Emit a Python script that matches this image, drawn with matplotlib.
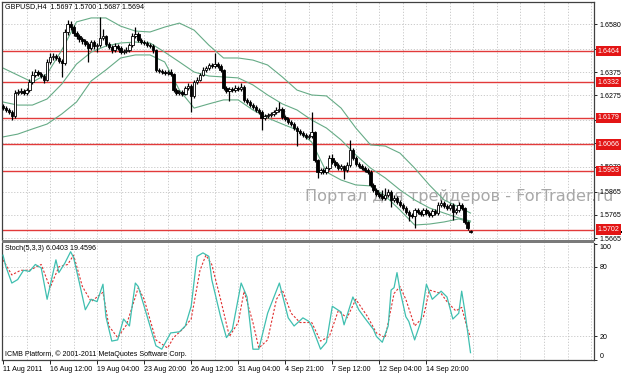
import matplotlib
matplotlib.use("Agg")
import matplotlib.pyplot as plt
import numpy as np
from matplotlib.patches import Rectangle

plt.rcParams['font.family'] = ['Liberation Sans', 'DejaVu Sans']

symbol_title = "GBPUSD,H4  1.5697 1.5700 1.5687 1.5694"
stoch_title = "Stoch(5,3,3) 6.0403 19.4596"
copyright_text = "ICMB Platform, \u00a9 2001-2011 MetaQuotes Software Corp."
watermark = "Портал для трейдеров - ForTrader.ru"

opens = [
    1.6230, 1.6221, 1.6213, 1.6204, 1.6187, 1.6286, 1.6290, 1.6294, 1.6286, 1.6298,
    1.6333, 1.6363, 1.6375, 1.6367, 1.6358, 1.6341, 1.6418, 1.6439, 1.6443, 1.6435,
    1.6422, 1.6414, 1.6546, 1.6580, 1.6567, 1.6541, 1.6529, 1.6516, 1.6507, 1.6495,
    1.6478, 1.6503, 1.6486, 1.6490, 1.6520, 1.6529, 1.6495, 1.6482, 1.6469, 1.6486,
    1.6478, 1.6460, 1.6465, 1.6469, 1.6490, 1.6529, 1.6537, 1.6512, 1.6503, 1.6499,
    1.6490, 1.6486, 1.6469, 1.6384, 1.6379, 1.6375, 1.6371, 1.6375, 1.6367, 1.6298,
    1.6286, 1.6290, 1.6281, 1.6307, 1.6316, 1.6273, 1.6333, 1.6341, 1.6363, 1.6384,
    1.6392, 1.6405, 1.6401, 1.6409, 1.6401, 1.6384, 1.6307, 1.6294, 1.6303, 1.6298,
    1.6307, 1.6303, 1.6311, 1.6256, 1.6247, 1.6234, 1.6226, 1.6213, 1.6204, 1.6179,
    1.6187, 1.6192, 1.6196, 1.6204, 1.6213, 1.6217, 1.6183, 1.6174, 1.6162, 1.6153,
    1.6136, 1.6123, 1.6115, 1.6106, 1.6098, 1.6102, 1.6119, 1.5999, 1.5948, 1.5957,
    1.5948, 1.5965, 1.6008, 1.5991, 1.5978, 1.5965, 1.5974, 1.5957, 1.5978, 1.6042,
    1.6008, 1.5982, 1.5974, 1.5965, 1.5957, 1.5948, 1.5893, 1.5872, 1.5854, 1.5846,
    1.5838, 1.5850, 1.5863, 1.5829, 1.5838, 1.5820, 1.5808, 1.5795, 1.5778, 1.5765,
    1.5761, 1.5786, 1.5778, 1.5769, 1.5786, 1.5773, 1.5765, 1.5782, 1.5773, 1.5808,
    1.5816, 1.5803, 1.5795, 1.5808, 1.5778, 1.5786, 1.5808, 1.5795, 1.5735, 1.5697,
]
highs = [
    1.6240, 1.6232, 1.6222, 1.6212, 1.6300, 1.6302, 1.6305, 1.6303, 1.6308, 1.6345,
    1.6380, 1.6388, 1.6384, 1.6375, 1.6366, 1.6430, 1.6455, 1.6456, 1.6452, 1.6442,
    1.6430, 1.6560, 1.6597, 1.6595, 1.6575, 1.6550, 1.6538, 1.6525, 1.6515, 1.6503,
    1.6512, 1.6510, 1.6500, 1.6610, 1.6560, 1.6535, 1.6503, 1.6490, 1.6497, 1.6495,
    1.6485, 1.6475, 1.6480, 1.6500, 1.6540, 1.6567, 1.6545, 1.6520, 1.6512, 1.6508,
    1.6498, 1.6495, 1.6475, 1.6392, 1.6388, 1.6384, 1.6383, 1.6386, 1.6372, 1.6306,
    1.6300, 1.6298, 1.6316, 1.6330, 1.6325, 1.6340, 1.6352, 1.6372, 1.6395, 1.6402,
    1.6415, 1.6414, 1.6456, 1.6418, 1.6410, 1.6390, 1.6315, 1.6312, 1.6312, 1.6318,
    1.6316, 1.6330, 1.6318, 1.6265, 1.6255, 1.6243, 1.6235, 1.6222, 1.6212, 1.6196,
    1.6200, 1.6206, 1.6214, 1.6225, 1.6247, 1.6225, 1.6192, 1.6182, 1.6170, 1.6160,
    1.6145, 1.6132, 1.6124, 1.6115, 1.6112, 1.6204, 1.6125, 1.6005, 1.5966, 1.5965,
    1.5975, 1.6020, 1.6025, 1.5998, 1.5986, 1.5983, 1.5980, 1.5990, 1.6085, 1.6050,
    1.6015, 1.5990, 1.5982, 1.5973, 1.5965, 1.5955, 1.5900, 1.5880, 1.5862, 1.5870,
    1.5880, 1.5875, 1.5870, 1.5850, 1.5845, 1.5828, 1.5816, 1.5803, 1.5786, 1.5775,
    1.5795, 1.5795, 1.5786, 1.5795, 1.5794, 1.5781, 1.5792, 1.5790, 1.5820, 1.5830,
    1.5825, 1.5812, 1.5818, 1.5815, 1.5795, 1.5820, 1.5815, 1.5800, 1.5740, 1.5700,
]
lows = [
    1.6212, 1.6204, 1.6195, 1.6170, 1.6180, 1.6276, 1.6280, 1.6277, 1.6278, 1.6290,
    1.6325, 1.6355, 1.6358, 1.6348, 1.6330, 1.6335, 1.6410, 1.6428, 1.6425, 1.6412,
    1.6352, 1.6405, 1.6535, 1.6555, 1.6530, 1.6518, 1.6505, 1.6495, 1.6485, 1.6420,
    1.6470, 1.6475, 1.6460, 1.6482, 1.6510, 1.6485, 1.6472, 1.6458, 1.6460, 1.6468,
    1.6450, 1.6452, 1.6456, 1.6462, 1.6483, 1.6520, 1.6503, 1.6494, 1.6490, 1.6480,
    1.6476, 1.6458, 1.6375, 1.6370, 1.6366, 1.6362, 1.6363, 1.6358, 1.6288, 1.6276,
    1.6278, 1.6272, 1.6275, 1.6298, 1.6204, 1.6265, 1.6325, 1.6335, 1.6356, 1.6376,
    1.6385, 1.6392, 1.6394, 1.6392, 1.6375, 1.6298, 1.6284, 1.6250, 1.6288, 1.6290,
    1.6294, 1.6296, 1.6246, 1.6238, 1.6225, 1.6216, 1.6204, 1.6195, 1.6127, 1.6170,
    1.6178, 1.6183, 1.6187, 1.6195, 1.6205, 1.6175, 1.6165, 1.6153, 1.6144, 1.6128,
    1.6058, 1.6106, 1.6097, 1.6089, 1.6090, 1.6094, 1.5990, 1.5923, 1.5940, 1.5938,
    1.5940, 1.5958, 1.5982, 1.5968, 1.5955, 1.5956, 1.5920, 1.5950, 1.5970, 1.5998,
    1.5973, 1.5965, 1.5956, 1.5948, 1.5939, 1.5884, 1.5862, 1.5844, 1.5836, 1.5828,
    1.5830, 1.5843, 1.5800, 1.5820, 1.5810, 1.5798, 1.5785, 1.5768, 1.5740, 1.5750,
    1.5709, 1.5768, 1.5759, 1.5760, 1.5764, 1.5755, 1.5757, 1.5764, 1.5766, 1.5800,
    1.5794, 1.5786, 1.5787, 1.5745, 1.5768, 1.5778, 1.5786, 1.5728, 1.5700, 1.5687,
]
closes = [
    1.6221, 1.6213, 1.6204, 1.6187, 1.6286, 1.6290, 1.6294, 1.6286, 1.6298, 1.6333,
    1.6363, 1.6375, 1.6367, 1.6358, 1.6341, 1.6418, 1.6439, 1.6443, 1.6435, 1.6422,
    1.6414, 1.6546, 1.6580, 1.6567, 1.6541, 1.6529, 1.6516, 1.6507, 1.6495, 1.6478,
    1.6503, 1.6486, 1.6490, 1.6520, 1.6529, 1.6495, 1.6482, 1.6469, 1.6486, 1.6478,
    1.6460, 1.6465, 1.6469, 1.6490, 1.6529, 1.6537, 1.6512, 1.6503, 1.6499, 1.6490,
    1.6486, 1.6469, 1.6384, 1.6379, 1.6375, 1.6371, 1.6375, 1.6367, 1.6298, 1.6286,
    1.6290, 1.6281, 1.6307, 1.6316, 1.6273, 1.6333, 1.6341, 1.6363, 1.6384, 1.6392,
    1.6405, 1.6401, 1.6409, 1.6401, 1.6384, 1.6307, 1.6294, 1.6303, 1.6298, 1.6307,
    1.6303, 1.6311, 1.6256, 1.6247, 1.6234, 1.6226, 1.6213, 1.6204, 1.6179, 1.6187,
    1.6192, 1.6196, 1.6204, 1.6213, 1.6217, 1.6183, 1.6174, 1.6162, 1.6153, 1.6136,
    1.6123, 1.6115, 1.6106, 1.6098, 1.6102, 1.6119, 1.5999, 1.5948, 1.5957, 1.5948,
    1.5965, 1.6008, 1.5991, 1.5978, 1.5965, 1.5974, 1.5957, 1.5978, 1.6042, 1.6008,
    1.5982, 1.5974, 1.5965, 1.5957, 1.5948, 1.5893, 1.5872, 1.5854, 1.5846, 1.5838,
    1.5850, 1.5863, 1.5829, 1.5838, 1.5820, 1.5808, 1.5795, 1.5778, 1.5765, 1.5761,
    1.5786, 1.5778, 1.5769, 1.5786, 1.5773, 1.5765, 1.5782, 1.5773, 1.5808, 1.5816,
    1.5803, 1.5795, 1.5808, 1.5778, 1.5786, 1.5808, 1.5795, 1.5735, 1.5709, 1.5694,
]

band_idx = [0, 5, 10, 15, 20, 25, 30, 35, 40, 45, 50, 55, 60, 65, 70, 75, 80,
            85, 90, 95, 100, 105, 110, 115, 120, 125, 130, 135, 140, 145, 150, 155, 159]
band_upper = [1.6392, 1.6362, 1.6332, 1.6367, 1.6469, 1.6589, 1.6606, 1.6606, 1.6571,
              1.6550, 1.6546, 1.6567, 1.6584, 1.6554, 1.6490, 1.6435, 1.6435, 1.6426,
              1.6405, 1.6354, 1.6298, 1.6277, 1.6273, 1.6221, 1.6136, 1.6064, 1.6059,
              1.6029, 1.5965, 1.5893, 1.5829, 1.5799, 1.5773]
band_middle = [1.6247, 1.6234, 1.6234, 1.6260, 1.6324, 1.6409, 1.6460, 1.6486, 1.6499,
               1.6503, 1.6499, 1.6460, 1.6418, 1.6375, 1.6358, 1.6354, 1.6350, 1.6320,
               1.6277, 1.6239, 1.6213, 1.6170, 1.6136, 1.6085, 1.6021, 1.5965, 1.5923,
               1.5872, 1.5829, 1.5795, 1.5773, 1.5752, 1.5739]
band_lower = [1.6098, 1.6110, 1.6132, 1.6153, 1.6196, 1.6247, 1.6337, 1.6384, 1.6435,
              1.6448, 1.6448, 1.6418, 1.6298, 1.6221, 1.6239, 1.6256, 1.6256, 1.6213,
              1.6179, 1.6153, 1.6128, 1.6076, 1.5948, 1.5914, 1.5893, 1.5889, 1.5846,
              1.5786, 1.5722, 1.5726, 1.5735, 1.5748, 1.5735]

stoch_main_idx = [0, 1, 3, 5, 7, 9, 11, 13, 15, 18, 19, 21, 23, 24, 26, 28, 30, 32, 34,
                  35, 37, 39, 41, 43, 45, 46, 48, 52, 54, 57, 60, 62, 64, 66, 68, 70,
                  71, 74, 76, 78, 81, 83, 85, 87, 90, 94, 97, 99, 102, 104, 105, 108,
                  110, 112, 115, 116, 119, 121, 123, 126, 127, 129, 131, 132, 133, 134,
                  135, 137, 138, 140, 142, 144, 146, 149, 151, 153, 155, 156, 157, 159]
stoch_main = [90, 80, 66, 69, 77, 76, 82, 79, 52, 86, 75, 83, 93, 88, 66, 43, 52, 50, 65,
              37, 16, 17, 35, 29, 66, 63, 46, 12, 9, 23, 24, 29, 46, 89, 92, 89,
              69, 37, 19, 26, 66, 54, 9, 9, 40, 66, 36, 29, 36, 33, 29, 9,
              15, 46, 41, 30, 54, 43, 36, 26, 20, 15, 29, 60, 62, 75,
              60, 37, 33, 17, 32, 65, 52, 59, 54, 35, 40, 59, 43, 6.0403]

stoch_signal_idx = [0, 3, 6, 9, 13, 16, 19, 22, 24, 27, 30, 34, 36, 39, 42, 46, 48, 52,
                    56, 58, 61, 64, 67, 69, 71, 74, 77, 80, 82, 85, 87, 90, 93, 95, 98,
                    101, 105, 108, 111, 114, 117, 120, 124, 127, 130, 133, 135, 137, 140,
                    143, 145, 149, 151, 154, 156, 158, 159]
stoch_signal = [86, 73, 77, 77, 82, 62, 80, 82, 90, 63, 50, 58, 29, 19, 30, 62, 52, 17,
                10, 19, 26, 35, 77, 90, 82, 52, 20, 32, 59, 32, 10, 17, 52, 60, 40,
                32, 32, 16, 20, 42, 36, 52, 37, 23, 19, 57, 63, 52, 29,
                37, 60, 57, 50, 42, 45, 26, 19.4596]

level_values = [1.6464, 1.6332, 1.6179, 1.6066, 1.5953, 1.5702]
level_labels = ["1.6464", "1.6332", "1.6179", "1.6066", "1.5953", "1.5702"]
bid_value = 1.5694
price_ticks = [1.6580, 1.6475, 1.6375, 1.6275, 1.6170, 1.6070, 1.5970, 1.5865, 1.5765, 1.5665]
# labels hidden behind the red level boxes in the reference are left blank
price_tick_labels = ["1.6580", "1.6475", "1.6375", "1.6275", "", "",
                     "1.5970", "1.5865", "1.5765", "1.5665"]
stoch_ticks = [100, 80, 20, 0]
stoch_tick_labels = ["100", "80", "20", "0"]
stoch_levels = [20, 80]
date_labels = ["11 Aug 2011", "16 Aug 12:00", "19 Aug 04:00", "23 Aug 20:00",
               "26 Aug 12:00", "31 Aug 04:00", "4 Sep 21:00", "7 Sep 12:00",
               "12 Sep 04:00", "14 Sep 20:00"]
date_label_bars = [0, 16, 32, 48, 64, 80, 96, 112, 128, 144]
grid_bars = list(range(8, 201, 8))

# ---------------------------------------------------------------- layout
W, H = 623, 373
fig = plt.figure(figsize=(W / 100, H / 100), dpi=100)
fig.patch.set_facecolor('white')


def fx(px):
    return px / W


def fy(py):
    return 1 - py / H


ax = fig.add_axes([fx(2), fy(240), (594 - 2) / W, (240 - 2) / H])
ax2 = fig.add_axes([fx(2), fy(360), (594 - 2) / W, (360 - 243) / H])

SMALL = 5.1
grid_color = '#c4c4c4'
grid_ls = (0, (1.5, 2.0))

# ---------------------------------------------------------------- main chart
x = np.arange(len(closes))
o = np.array(opens)
h = np.array(highs)
l = np.array(lows)
c = np.array(closes)

ax.set_xlim(-0.34, 201)
ax.set_ylim(1.5658, 1.6674)

for g in grid_bars:
    ax.axvline(g, color=grid_color, lw=0.6, ls=grid_ls, zorder=0.5)
for t in price_ticks:
    ax.axhline(t, color=grid_color, lw=0.6, ls=grid_ls, zorder=0.5)

ax.text(fx(305), fy(197), watermark, transform=fig.transFigure, fontsize=11.6,
        family='DejaVu Sans', color='#a8a8a8', ha='left', va='center',
        zorder=1, clip_on=False)

for v in level_values:
    ax.axhline(v, color='#e23a3a', lw=1.0, zorder=1.5)

band_color = '#66ab86'
ax.plot(band_idx, band_upper, color=band_color, lw=0.8, zorder=2)
ax.plot(band_idx, band_middle, color=band_color, lw=0.8, zorder=2)
ax.plot(band_idx, band_lower, color=band_color, lw=0.8, zorder=2)

ax.vlines(x, l, h, color='black', lw=0.9, zorder=3)
bull = c >= o
body_low = np.minimum(o, c)
body_h = np.maximum(np.abs(c - o), 0.00009)
ax.bar(x[bull], body_h[bull], bottom=body_low[bull], width=0.85, color='white',
       edgecolor='black', lw=0.6, zorder=4)
ax.bar(x[~bull], body_h[~bull], bottom=body_low[~bull], width=0.85, color='black',
       edgecolor='black', lw=0.6, zorder=4)

ax.yaxis.tick_right()
ax.set_yticks(price_ticks)
ax.set_yticklabels(price_tick_labels)
ax.tick_params(axis='y', length=2.5, width=0.6, pad=1.5, labelsize=SMALL, colors='black')
ax.set_xticks([])

for sp in ['left', 'right', 'top']:
    ax.spines[sp].set_color('#404040')
    ax.spines[sp].set_linewidth(0.9)
ax.spines['bottom'].set_visible(False)

ytr = ax.get_yaxis_transform()
# current bid marker peeking out beneath the lowest level box
ax.add_patch(Rectangle((1.004, bid_value - 0.0006), 0.043, 0.0009, transform=ytr,
                       fc='black', ec='none', clip_on=False, zorder=9))
for v, lab in zip(level_values, level_labels):
    ax.text(1.006, v, lab, transform=ytr, ha='left', va='center', color='white',
            fontsize=SMALL, clip_on=False, zorder=10,
            bbox=dict(boxstyle='square,pad=0.25', fc='#e31515', ec='none'))

fig.text(fx(5), fy(7), symbol_title, fontsize=SMALL, ha='left', va='center', color='black')

# ---------------------------------------------------------------- stochastic
ax2.set_xlim(-0.34, 201)
ax2.set_ylim(-0.3, 100.5)
for g in grid_bars:
    ax2.axvline(g, color=grid_color, lw=0.6, ls=grid_ls, zorder=0.5)
for s in stoch_levels:
    ax2.axhline(s, color=grid_color, lw=0.6, ls=grid_ls, zorder=0.5)

ax2.plot(stoch_main_idx, stoch_main, color='#3fbfb0', lw=0.9, zorder=3)
ax2.plot(stoch_signal_idx, stoch_signal, color='#e03030', lw=0.8, ls=(0, (2, 1.6)), zorder=2)

ax2.yaxis.tick_right()
ax2.set_yticks(stoch_ticks)
ax2.set_yticklabels(stoch_tick_labels)
ax2.tick_params(axis='y', length=2.5, width=0.6, pad=1.5, labelsize=SMALL, colors='black')
for lab in ax2.get_yticklabels():
    if lab.get_text() == "100":
        lab.set_va('top')
    elif lab.get_text() == "0":
        lab.set_va('bottom')

ax2.set_xticks(date_label_bars)
ax2.set_xticklabels(date_labels, ha='left')
ax2.tick_params(axis='x', length=3, width=0.6, pad=1.5, labelsize=SMALL, colors='black')

for sp in ['left', 'right', 'bottom']:
    ax2.spines[sp].set_color('#404040')
    ax2.spines[sp].set_linewidth(0.9)
ax2.spines['top'].set_visible(False)

ax2.text(fx(5), fy(249), stoch_title, transform=fig.transFigure, fontsize=SMALL,
         ha='left', va='center', color='black')
ax2.text(fx(5), fy(354), copyright_text, transform=fig.transFigure, fontsize=SMALL,
         ha='left', va='center', color='black')

fig.patches.append(Rectangle((fx(2), fy(243)), (594 - 2) / W, 3 / H,
                             transform=fig.transFigure, fc='#7a7a7a', ec='none'))

fig.savefig('out.png', dpi=100, facecolor='white')
